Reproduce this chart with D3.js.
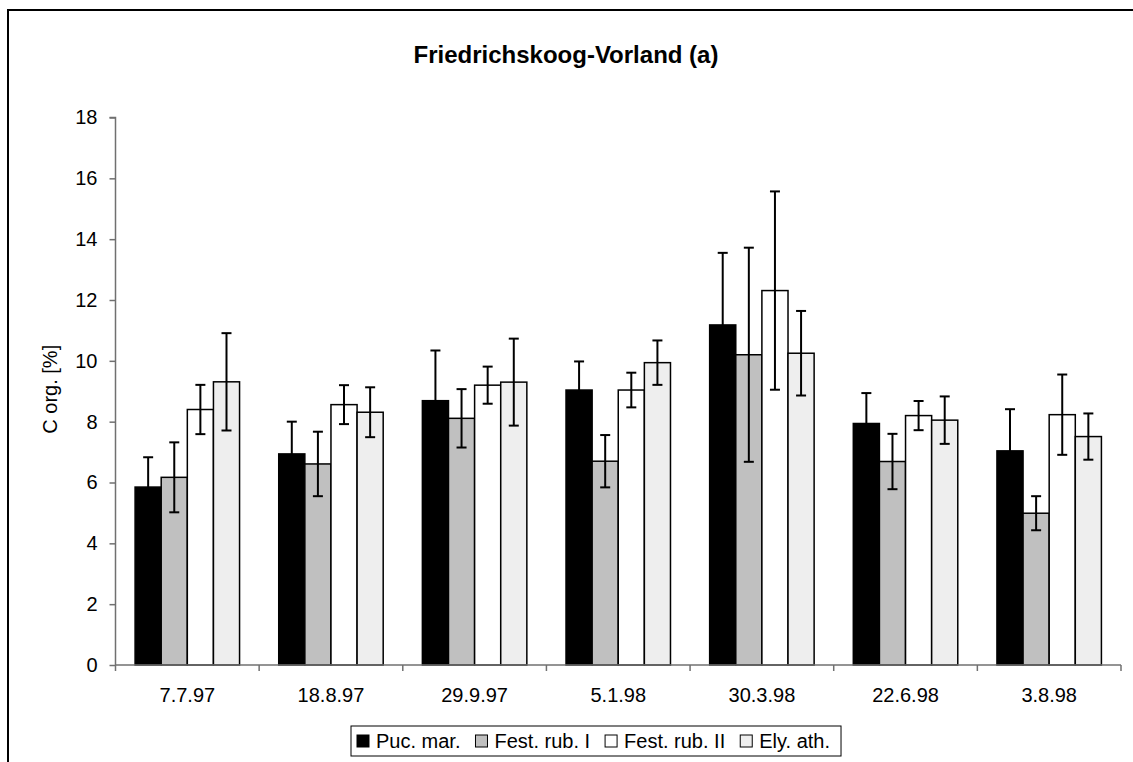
<!DOCTYPE html>
<html>
<head>
<meta charset="utf-8">
<script src="https://cdn.jsdelivr.net/npm/d3@7"></script>
<style>
  html, body { margin: 0; padding: 0; background: #fff; }
  svg { display: block; font-family: "Liberation Sans", Arial, sans-serif; }
</style>
</head>
<body>
<svg id="chart" width="1133" height="762"></svg>
<script>
const categories = ["7.7.97", "18.8.97", "29.9.97", "5.1.98", "30.3.98", "22.6.98", "3.8.98"];
const seriesNames = ["Puc. mar.", "Fest. rub. I", "Fest. rub. II", "Ely. ath."];
const seriesColors = ["#000000", "#c0c0c0", "#ffffff", "#eeeeee"];
const pucMar = [5.85, 6.94, 8.69, 9.04, 11.18, 7.94, 7.04];
const pucMarErr = [0.98, 1.06, 1.65, 0.94, 2.37, 1.00, 1.37];
const festRubI = [6.17, 6.61, 8.11, 6.70, 10.20, 6.69, 4.99];
const festRubIErr = [1.15, 1.06, 0.96, 0.86, 3.52, 0.91, 0.56];
const festRubII = [8.40, 8.56, 9.20, 9.04, 12.31, 8.20, 8.23];
const festRubIIErr = [0.81, 0.64, 0.61, 0.57, 3.26, 0.48, 1.32];
const elyAth = [9.31, 8.31, 9.30, 9.94, 10.25, 8.05, 7.51];
const elyAthErr = [1.60, 0.82, 1.43, 0.73, 1.39, 0.78, 0.76];
const yTicks = [0, 2, 4, 6, 8, 10, 12, 14, 16, 18];
const titleText = "Friedrichskoog-Vorland (a)";
const yLabel = "C org. [%]";

const seriesValues = [pucMar, festRubI, festRubII, elyAth];
const seriesErrs = [pucMarErr, festRubIErr, festRubIIErr, elyAthErr];

const svg = d3.select("#chart");
const plot = { left: 115.5, right: 1121, top: 117.5, bottom: 665 };

// outer frame (right/bottom edges run off the canvas)
svg.append("rect").attr("x", 8).attr("y", 10).attr("width", 1140).attr("height", 770)
  .attr("fill", "none").attr("stroke", "#000").attr("stroke-width", 2);

svg.append("text").attr("x", 566).attr("y", 63).attr("text-anchor", "middle")
  .attr("font-size", 24).attr("font-weight", "bold").text(titleText);

const y = d3.scaleLinear().domain([0, 18]).range([plot.bottom, plot.top]);
const x0 = d3.scaleBand().domain(categories).range([plot.left, plot.right]).padding(0);
const bw = x0.bandwidth();
const gap = bw * 0.75 / 5.5;
const x1 = d3.scaleBand().domain(seriesNames).range([gap, bw - gap]).padding(0);

// y axis
const yAxis = svg.append("g").attr("transform", `translate(${plot.left},0)`)
  .call(d3.axisLeft(y).tickValues(yTicks).tickSize(6).tickPadding(12).tickFormat(d3.format("d")));
yAxis.selectAll("path,line").attr("stroke", "#707070").attr("stroke-width", 1.5);
yAxis.select(".domain").attr("d", `M-6,${plot.top}H0V${plot.bottom}`);
yAxis.selectAll("text").attr("font-size", 20).attr("fill", "#000")
  .attr("font-family", "Liberation Sans, Arial, sans-serif");

svg.append("text").attr("transform", `translate(57,${(plot.top + plot.bottom) / 2 - 2}) rotate(-90)`)
  .attr("text-anchor", "middle").attr("font-size", 20).text(yLabel);

// bars
const groups = svg.append("g").selectAll("g").data(categories).join("g")
  .attr("transform", d => `translate(${x0(d)},0)`);

groups.each(function(cat, ci) {
  const g = d3.select(this);
  seriesNames.forEach((s, si) => {
    const v = seriesValues[si][ci];
    g.append("rect").attr("x", x1(s)).attr("y", y(v))
      .attr("width", x1.bandwidth()).attr("height", y(0) - y(v))
      .attr("fill", seriesColors[si]).attr("stroke", "#000").attr("stroke-width", 1.5);
  });
});
groups.each(function(cat, ci) {
  const g = d3.select(this);
  seriesNames.forEach((s, si) => {
    const v = seriesValues[si][ci], e = seriesErrs[si][ci];
    const cx = x1(s) + x1.bandwidth() / 2;
    const e1 = y(v + e), e2 = y(v - e);
    g.append("line").attr("x1", cx).attr("x2", cx).attr("y1", e1).attr("y2", e2)
      .attr("stroke", "#000").attr("stroke-width", 2);
    [e1, e2].forEach(yy => g.append("line").attr("x1", cx - 5).attr("x2", cx + 5)
      .attr("y1", yy).attr("y2", yy).attr("stroke", "#000").attr("stroke-width", 2));
  });
});

// x axis
const xAxis = svg.append("g").attr("transform", `translate(0,${plot.bottom})`)
  .call(d3.axisBottom(x0).tickSize(0).tickPadding(23));
xAxis.select(".domain").attr("stroke", "#707070").attr("stroke-width", 1.5)
  .attr("d", `M${plot.left},0H${plot.right}`);
xAxis.selectAll("text").attr("font-size", 20).attr("fill", "#000")
  .attr("font-family", "Liberation Sans, Arial, sans-serif");
const bounds = categories.map(c => x0(c)).concat([x0.range()[1]]);
xAxis.selectAll(".bound").data(bounds).join("line").attr("class", "bound")
  .attr("x1", d => d).attr("x2", d => d).attr("y1", 0).attr("y2", 6)
  .attr("stroke", "#707070").attr("stroke-width", 1.5);

// legend
const legend = svg.append("g");
let lx = 357;
const ly = 741;
seriesNames.forEach((s, si) => {
  const it = legend.append("g");
  it.append("rect").attr("x", lx).attr("y", ly - 6).attr("width", 12).attr("height", 12)
    .attr("fill", seriesColors[si]).attr("stroke", "#000").attr("stroke-width", 1);
  const t = it.append("text").attr("x", lx + 19).attr("y", ly + 7).attr("font-size", 20).text(s);
  const w = t.node().getComputedTextLength();
  lx = lx + 19 + w + 15;
});
legend.insert("rect", ":first-child").attr("x", 351).attr("y", 726)
  .attr("width", lx - 15 + 11 - 351).attr("height", 30)
  .attr("fill", "#fff").attr("stroke", "#000").attr("stroke-width", 1);
</script>
</body>
</html>
